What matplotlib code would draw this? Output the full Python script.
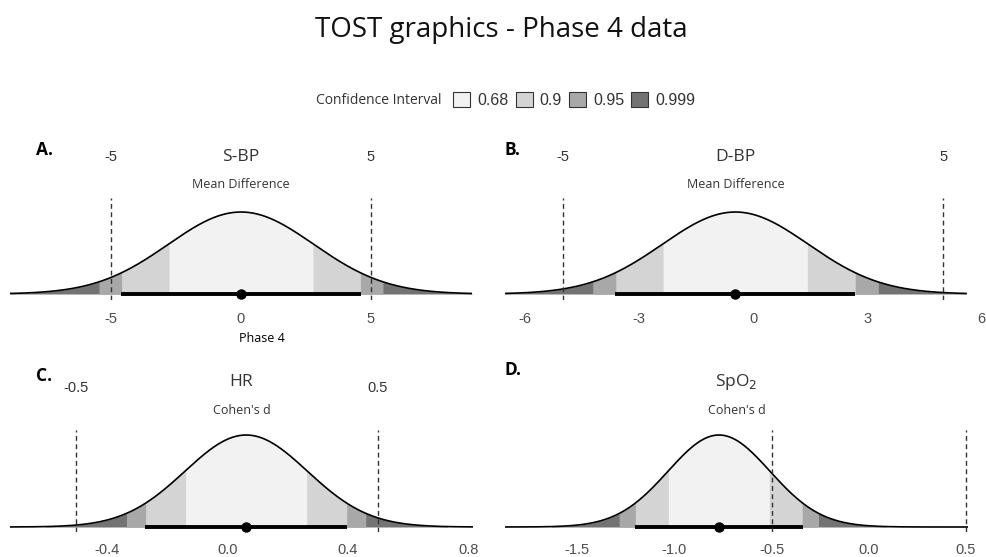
import numpy as np
import matplotlib

matplotlib.use("Agg")
import matplotlib.pyplot as plt
from matplotlib.patches import Patch

# Panel data
panel_letters = ["A.", "B.", "C.", "D."]
panel_titles = ["S-BP", "D-BP", "HR", "SpO$_2$"]
panel_units = ["Mean Difference", "Mean Difference", "Cohen's d", "Cohen's d"]
means = [0.0, -0.47, 0.063, -0.77]
ses = [2.8, 1.92, 0.203, 0.262]
lower_bounds = [-5, -5, -0.5, -0.5]
upper_bounds = [5, 5, 0.5, 0.5]
show_bound_labels = [True, True, True, False]
bound_labels = [("-5", "5"), ("-5", "5"), ("-0.5", "0.5"), ("", "")]
curve_ranges = [(-8.9, 8.9), (-6.53, 5.6), (-0.72, 0.815), (-1.87, 0.51)]
x_limits = [(-8.9, 8.9), (-6.53, 6.02), (-0.72, 0.815), (-1.87, 0.51)]
x_ticks = [[-5, 0, 5], [-6, -3, 0, 3, 6], [-0.4, 0.0, 0.4, 0.8], [-1.5, -1.0, -0.5, 0.0, 0.5]]
x_tick_labels = [["-5", "0", "5"], ["-6", "-3", "0", "3", "6"],
                 ["-0.4", "0.0", "0.4", "0.8"], ["-1.5", "-1.0", "-0.5", "0.0", "0.5"]]

ci_levels = ["0.68", "0.9", "0.95", "0.999"]
ci_z = [0.994, 1.645, 1.96, 3.29]
ci_colors = ["#f2f2f2", "#d4d4d4", "#a8a8a8", "#737373"]

W, H = 987, 557
fig = plt.figure(figsize=(W / 100, H / 100), dpi=100)

TITLE_FONT = ["Open Sans", "DejaVu Sans"]
TICK_FONT = ["Liberation Sans", "DejaVu Sans"]


def fx(px):
    return px / W


def fy(py):
    return 1 - py / H


# axes rectangles in pixels: left, right, top, bottom, baseline, peak
rects = [
    (10, 472, 198, 300, 294, 212),
    (505, 982, 198, 300, 294, 212),
    (10, 473, 430, 532, 527, 435),
    (505, 968, 430, 532, 527, 435),
]
# text rows in pixels: letter y, bound label y, title y, unit y, tick pad (pt)
text_rows = [
    (150, 157, 157, 185, 8.5),
    (150, 157, 157, 185, 8.5),
    (376, 388, 382, 410, 8),
    (370, 388, 382, 410, 8),
]

for i in range(4):
    left, right, top, bottom, base, peak = rects[i]
    ax = fig.add_axes([fx(left), fy(bottom), (right - left) / W, (bottom - top) / H])
    m, se = means[i], ses[i]
    x = np.linspace(curve_ranges[i][0], curve_ranges[i][1], 800)
    dens = np.exp(-0.5 * ((x - m) / se) ** 2) / (se * np.sqrt(2 * np.pi))
    pk = 1 / (se * np.sqrt(2 * np.pi))

    # shaded CI regions, widest first
    for z, col in reversed(list(zip(ci_z, ci_colors))):
        mask = (x >= m - z * se) & (x <= m + z * se)
        ax.fill_between(x[mask], 0, dens[mask], color=col, lw=0)
    ax.plot(x, dens, color="black", lw=1.2)

    # 90% CI bar and estimate
    ax.plot([m - 1.645 * se, m + 1.645 * se], [0, 0], color="black", lw=2.8,
            solid_capstyle="butt")
    ax.plot([m], [0], "o", color="black", ms=6.5)

    for b in (lower_bounds[i], upper_bounds[i]):
        ax.axvline(b, color="#333333", lw=1, ls=(0, (3.5, 2.5)))

    px_per_unit = (base - peak) / pk
    ax.set_ylim(-(bottom - base) / px_per_unit, (base - top) / px_per_unit)
    ax.set_xlim(*x_limits[i])
    ax.set_xticks(x_ticks[i])
    ax.set_xticklabels(x_tick_labels[i], fontfamily=TICK_FONT, fontsize=10.5,
                       color="#4d4d4d")
    ax.tick_params(axis="x", length=0, pad=text_rows[i][4])
    ax.set_yticks([])
    for s in ax.spines.values():
        s.set_visible(False)
    ax.patch.set_alpha(0)

    letter_y, bound_y, title_y, unit_y, _ = text_rows[i]
    fig.text(fx(left + 26 if i % 2 == 0 else left), fy(letter_y), panel_letters[i],
             fontsize=12.5, fontweight="bold", fontfamily=TITLE_FONT, va="center")
    if show_bound_labels[i]:
        for b, lab in zip((lower_bounds[i], upper_bounds[i]), bound_labels[i]):
            bx = ax.transData.transform((b, 0))[0]
            fig.text(bx / W, fy(bound_y), lab, ha="center", va="center",
                     fontsize=10.5, fontfamily=TICK_FONT, color="#333333")
    cx = ax.transData.transform((np.mean(curve_ranges[i]), 0))[0]
    fig.text(cx / W, fy(title_y), panel_titles[i], ha="center", va="center",
             fontsize=12.5, fontfamily=TITLE_FONT, color="#333333")
    fig.text(cx / W, fy(unit_y), panel_units[i], ha="center", va="center",
             fontsize=9, fontfamily=TITLE_FONT, color="#333333")

fig.text(fx(262), fy(338), "Phase 4", ha="center", va="center", fontsize=9,
         fontfamily=TITLE_FONT, color="black")

fig.text(fx(501), fy(30), "TOST graphics - Phase 4 data", ha="center", va="center",
         fontsize=20, fontfamily=TITLE_FONT, color="#111111")

fig.text(fx(442), fy(100), "Confidence Interval", ha="right", va="center",
         fontsize=10, fontfamily=TITLE_FONT, color="#333333")
handles = [Patch(facecolor=c, edgecolor="#333333", lw=0.8) for c in ci_colors]
fig.legend(handles, ci_levels, loc="center left", bbox_to_anchor=(fx(439), fy(100)),
           ncol=4, frameon=False, handlelength=1.05, handleheight=1.05,
           handletextpad=0.45, columnspacing=0.45,
           prop={"family": TICK_FONT, "size": 11.5}, labelcolor="#333333")

fig.savefig("out.png", dpi=100)
